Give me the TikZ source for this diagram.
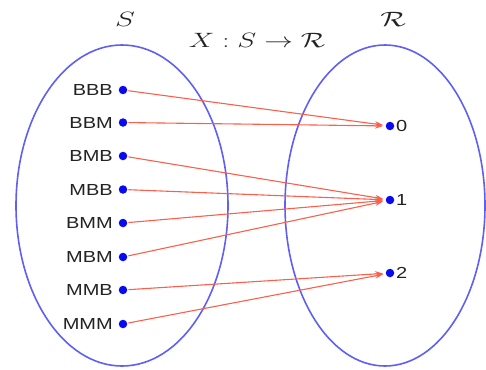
\documentclass[tikz,border=0pt]{standalone}
\usepackage{fontspec}
\usepackage{graphicx}
\usetikzlibrary{arrows.meta}
\newfontfamily\labfont[FakeStretch=1.25]{Liberation Sans}
\definecolor{setblue}{RGB}{95,95,245}
\definecolor{dotblue}{RGB}{10,10,240}
\definecolor{arrred}{RGB}{252,95,75}
\definecolor{txtgray}{RGB}{35,35,35}
\tikzset{
  setline/.style={draw=setblue, line width=1.6pt},
  pt/.style={circle, fill=dotblue, inner sep=0pt, minimum size=8.5pt},
  lab/.style={inner sep=0pt, text=txtgray, font=\labfont\fontsize{16}{16}\selectfont},
  ttl/.style={inner sep=0pt, text=txtgray, font=\fontsize{20}{20}\selectfont},
  arr/.style={draw=arrred, line width=1.1pt, -{Stealth[length=8pt,width=5.5pt]}, shorten >=2.5pt, shorten <=1pt}
}
\begin{document}
\begin{tikzpicture}[x=1pt,y=-1pt]
\useasboundingbox (0,0) rectangle (486,369);
% sets
\draw[setline] (122,205.5) ellipse [x radius=106pt, y radius=160.5pt];
\draw[setline] (385,205.5) ellipse [x radius=100pt, y radius=160.5pt];
% titles
\node[ttl] (tS) at (125,19) {\scalebox{1.45}[1]{$S$}};
\node[ttl] (tR) at (393,19) {\scalebox{1.45}[1]{$\mathcal{R}$}};
\node[ttl] (tX) at (257,40) {\scalebox{1.38}[1]{$X : S \to \mathcal{R}$}};
% left points
\foreach \n/\t/\y in {bbb/BBB/90, bbm/BBM/122.5, bmb/BMB/156, mbb/MBB/189.5, bmm/BMM/223, mbm/MBM/257, mmb/MMB/290, mmm/MMM/324}{
  \node[pt] (\n) at (123,\y) {};
  \node[lab, anchor=east] (t\n) at (113,\y) {\t};
}
% right points
\foreach \n/\t/\y in {zero/0/126, one/1/200, two/2/273}{
  \node[pt] (\n) at (390,\y) {};
  \node[lab, anchor=west] (t\n) at (396,\y) {\t};
}
% mapping
\draw[arr] (bbb) -- (zero);
\draw[arr] (bbm) -- (zero);
\draw[arr] (bmb) -- (one);
\draw[arr] (mbb) -- (one);
\draw[arr] (bmm) -- (one);
\draw[arr] (mbm) -- (one);
\draw[arr] (mmb) -- (two);
\draw[arr] (mmm) -- (two);
\end{tikzpicture}
\end{document}
